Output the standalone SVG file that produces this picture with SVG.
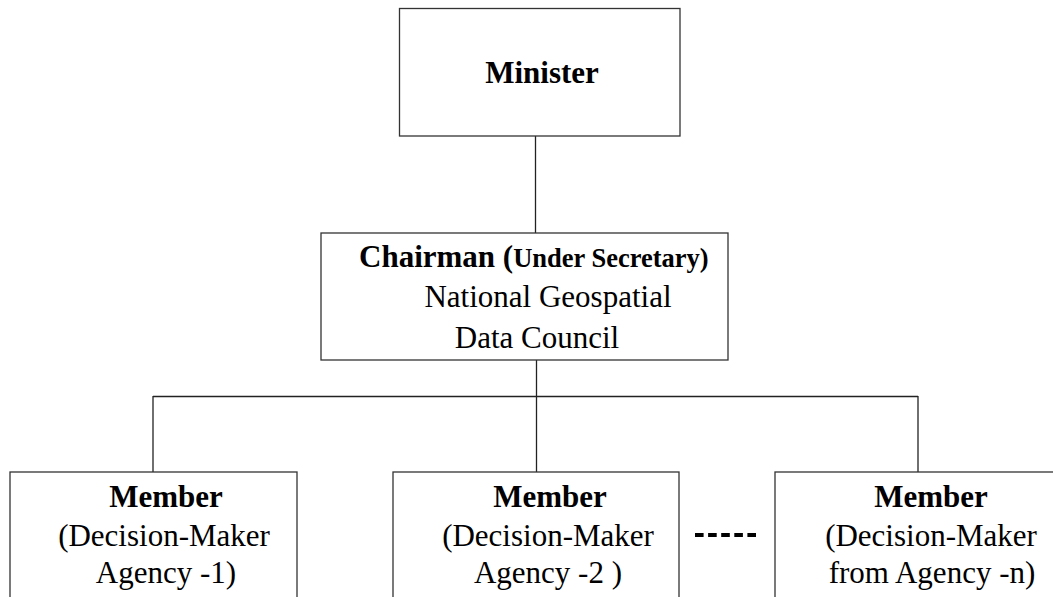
<svg xmlns="http://www.w3.org/2000/svg" width="1053" height="597" viewBox="0 0 1053 597">
<style>
.box{fill:#fff;stroke:#333;stroke-width:1.3}
.ln{fill:none;stroke:#222;stroke-width:1.3}
text{font-family:"Liberation Serif","Times New Roman",serif;fill:#000;text-anchor:middle}
.b{font-weight:bold;font-size:31px}
.r{font-size:31px}
</style>
<rect width="1053" height="597" fill="#fff"/>
<g id="connectors">
<line class="ln" x1="535.5" y1="136" x2="535.5" y2="233"/>
<line class="ln" x1="536.5" y1="360" x2="536.5" y2="472"/>
<line class="ln" x1="153" y1="396.5" x2="918" y2="396.5"/>
<line class="ln" x1="153" y1="396" x2="153" y2="472"/>
<line class="ln" x1="918" y1="396" x2="918" y2="472"/>
<line x1="695" y1="535" x2="756" y2="535" stroke="#000" stroke-width="4" stroke-dasharray="8.6 4.5"/>
</g>
<g id="minister">
<rect class="box" x="399.5" y="8.5" width="280.5" height="127.5"/>
<text class="b" x="542" y="83">Minister</text>
</g>
<g id="chairman">
<rect class="box" x="321" y="233" width="407" height="127"/>
<text x="535" y="267" class="b" text-anchor="start" style="text-anchor:start"><tspan x="359">Chairman (</tspan><tspan font-size="26.5px">Under Secretary)</tspan></text>
<text class="r" x="548" y="307">National Geospatial</text>
<text class="r" x="537" y="348">Data Council</text>
</g>
<g id="member1">
<rect class="box" x="10" y="472" width="287" height="140"/>
<text class="b" x="166" y="507">Member</text>
<text class="r" x="164" y="546">(Decision-Maker</text>
<text class="r" x="166" y="583">Agency -1)</text>
</g>
<g id="member2">
<rect class="box" x="393" y="472" width="286" height="140"/>
<text class="b" x="550" y="507">Member</text>
<text class="r" x="548" y="546">(Decision-Maker</text>
<text class="r" x="548" y="583">Agency -2 )</text>
</g>
<g id="memberN">
<rect class="box" x="775" y="472" width="290" height="140"/>
<text class="b" x="931" y="507">Member</text>
<text class="r" x="931" y="546">(Decision-Maker</text>
<text class="r" x="932" y="583">from Agency -n)</text>
</g>
</svg>
